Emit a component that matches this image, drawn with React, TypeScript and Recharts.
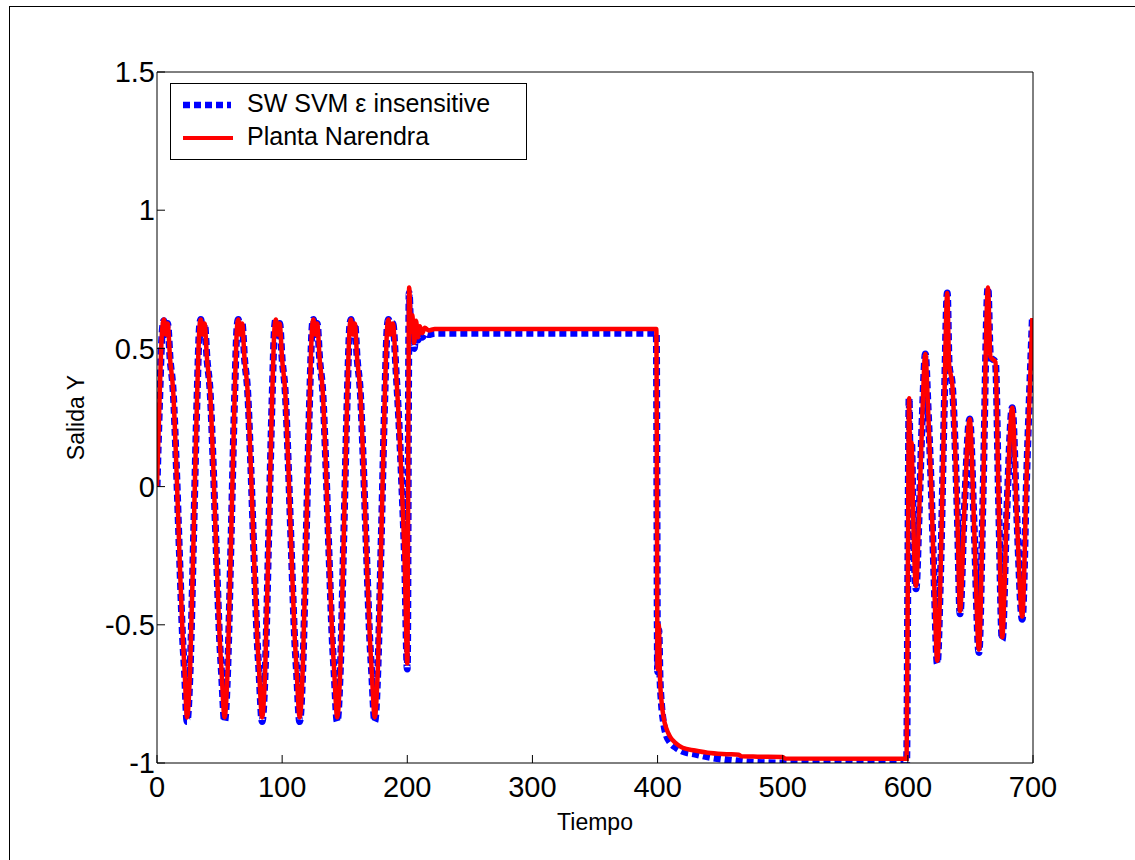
import React from 'react';
import { LineChart, Line, XAxis, YAxis, Legend, Label } from 'recharts';

// sample times (shared by both series)
const tiempo = [
  0, 2, 4, 5.5, 7, 8.5, 10.5, 13, 15.5, 18, 20.5, 22, 24, 26.5, 29.3, 32, 34,
  35, 36.5, 38, 40, 42.5, 45, 47.5, 50, 51.5, 54, 56.5, 59.3, 62, 64,
  65, 66.5, 68, 70, 72.5, 75, 77.5, 80, 81.5, 84, 86.5, 89.3, 92, 94,
  95, 96.5, 98, 100, 102.5, 105, 107.5, 110, 111.5, 114, 116.5, 119.3, 122, 124,
  125, 126.5, 128, 130, 132.5, 135, 137.5, 140, 141.5, 144, 146.5, 149.3, 152, 154,
  155, 156.5, 158, 160, 162.5, 165, 167.5, 170, 171.5, 174, 176.5, 179.3, 182, 184,
  185, 186.5, 188.5, 191, 195, 198, 200, 201.5, 203, 204, 205.5, 207, 208.5, 210, 212, 214, 217, 222,
  399, 400, 401, 402, 403, 405, 407, 410, 415, 420, 430, 440, 455, 465, 467, 480, 500, 502, 599,
  600, 601, 602, 603, 604, 606.5, 609, 611.5, 614, 616, 618.5, 621, 623.5, 626, 629, 631.5, 633, 635.5,
  639.5, 641.7, 645, 649.4, 653, 656.8, 660, 664, 666, 670, 672.5, 675.4, 679, 683.4, 687, 691.4, 695, 699.5,
];

// SW SVM epsilon insensitive (blue dotted)
const svmEpsilon = [
  0, 0.3, 0.55, 0.6, 0.55, 0.59, 0.46, 0.34, 0.07, -0.25, -0.55, -0.67, -0.85, -0.66, -0.17, 0.32, 0.58,
  0.605, 0.55, 0.59, 0.46, 0.34, 0.07, -0.25, -0.55, -0.67, -0.85, -0.66, -0.17, 0.32, 0.58,
  0.605, 0.55, 0.59, 0.46, 0.34, 0.07, -0.25, -0.55, -0.67, -0.85, -0.66, -0.17, 0.32, 0.58,
  0.605, 0.55, 0.59, 0.46, 0.34, 0.07, -0.25, -0.55, -0.67, -0.85, -0.66, -0.17, 0.32, 0.58,
  0.605, 0.55, 0.59, 0.46, 0.34, 0.07, -0.25, -0.55, -0.67, -0.85, -0.66, -0.17, 0.32, 0.58,
  0.605, 0.55, 0.59, 0.46, 0.34, 0.07, -0.25, -0.55, -0.67, -0.85, -0.66, -0.17, 0.32, 0.58,
  0.605, 0.55, 0.59, 0.42, 0.07, -0.29, -0.66, 0.7, 0.55, 0.58, 0.5, 0.56, 0.53, 0.55, 0.54, 0.553, 0.55, 0.555,
  0.555, -0.67, -0.52, -0.7, -0.78, -0.86, -0.9, -0.925, -0.945, -0.958, -0.968, -0.978, -0.988, -0.993, -0.994, -0.998, -1.0, -1.0, -1.0,
  -0.3, 0.32, 0.02, 0.16, -0.06, -0.37, -0.1, 0.25, 0.48, 0.3, 0.02, -0.34, -0.64, -0.34, 0.27, 0.7, 0.44, 0.37,
  -0.1, -0.46, -0.1, 0.245, -0.15, -0.6, -0.05, 0.72, 0.47, 0.45, -0.05, -0.555, -0.1, 0.285, -0.1, -0.48, 0.05, 0.61,
];

// Planta Narendra (red solid)
const plantaNarendra = [
  0, 0.31, 0.56, 0.605, 0.55, 0.59, 0.46, 0.34, 0.07, -0.25, -0.54, -0.66, -0.835, -0.655, -0.17, 0.32, 0.58,
  0.605, 0.55, 0.59, 0.46, 0.34, 0.07, -0.25, -0.54, -0.66, -0.835, -0.655, -0.17, 0.32, 0.58,
  0.605, 0.55, 0.59, 0.46, 0.34, 0.07, -0.25, -0.54, -0.66, -0.835, -0.655, -0.17, 0.32, 0.58,
  0.605, 0.55, 0.59, 0.46, 0.34, 0.07, -0.25, -0.54, -0.66, -0.835, -0.655, -0.17, 0.32, 0.58,
  0.605, 0.55, 0.59, 0.46, 0.34, 0.07, -0.25, -0.54, -0.66, -0.835, -0.655, -0.17, 0.32, 0.58,
  0.605, 0.55, 0.59, 0.46, 0.34, 0.07, -0.25, -0.54, -0.66, -0.835, -0.655, -0.17, 0.32, 0.58,
  0.605, 0.55, 0.59, 0.42, 0.07, -0.29, -0.64, 0.72, 0.56, 0.62, 0.52, 0.6, 0.54, 0.58, 0.555, 0.575, 0.565, 0.57,
  0.57, -0.66, -0.5, -0.7, -0.77, -0.84, -0.875, -0.905, -0.93, -0.945, -0.955, -0.963, -0.968, -0.97, -0.976, -0.977, -0.978, -0.984, -0.985,
  -0.3, 0.32, 0.02, 0.16, -0.06, -0.36, -0.1, 0.25, 0.48, 0.3, 0.02, -0.34, -0.63, -0.34, 0.27, 0.7, 0.44, 0.37,
  -0.1, -0.45, -0.1, 0.245, -0.15, -0.59, -0.05, 0.72, 0.47, 0.45, -0.05, -0.545, -0.1, 0.285, -0.1, -0.47, 0.05, 0.61,
];

const ticksX = [0, 100, 200, 300, 400, 500, 600, 700];
const ticksY = [-1, -0.5, 0, 0.5, 1, 1.5];

const data = tiempo.map((t, i) => ({ t, svm: svmEpsilon[i], planta: plantaNarendra[i] }));

const FONT = '"Liberation Sans", Arial, Helvetica, sans-serif';
const tickStyle = { fill: '#000', fontSize: 29, fontFamily: FONT };

const LegendBox = () => (
  <div style={{ position: 'relative', width: 357, height: 77, boxSizing: 'border-box', border: '1.5px solid #000', background: '#fff', fontFamily: FONT, fontSize: 25, color: '#000' }}>
    <svg width={52} height={10} style={{ position: 'absolute', left: 12, top: 16 }}>
      <line x1={0} y1={5} x2={48} y2={5} stroke="#0000ff" strokeWidth={6.5} strokeDasharray="7 4" />
    </svg>
    <span style={{ position: 'absolute', left: 76, top: 5, whiteSpace: 'nowrap' }}>SW SVM ε insensitive</span>
    <svg width={52} height={10} style={{ position: 'absolute', left: 12, top: 49 }}>
      <line x1={0} y1={5} x2={50} y2={5} stroke="#ff0000" strokeWidth={4} />
    </svg>
    <span style={{ position: 'absolute', left: 76, top: 38, whiteSpace: 'nowrap' }}>Planta Narendra</span>
  </div>
);

export default function App() {
  return (
    <div style={{ position: 'absolute', left: 0, top: 0, width: 1135, height: 860, overflow: 'hidden', background: '#fff' }}>
      <div style={{ position: 'absolute', left: 9, top: 6, width: 1300, height: 1000, border: '1px solid #000' }} />
      <div style={{ position: 'absolute', left: 0, top: 0 }}>
        <LineChart width={1135} height={860} data={data} margin={{ top: 0, right: 0, bottom: 0, left: 0 }}>
          <XAxis dataKey="t" type="number" domain={[0, 700]} ticks={ticksX} allowDataOverflow height={97}
            tick={tickStyle} tickSize={-8} tickMargin={21} axisLine={{ stroke: '#000' }} tickLine={{ stroke: '#000' }}>
            <Label value="Tiempo" position="insideBottom" offset={30} style={{ fill: '#000', fontSize: 23, fontFamily: FONT }} />
          </XAxis>
          <XAxis xAxisId="top" orientation="top" dataKey="t" type="number" domain={[0, 700]} ticks={ticksX} allowDataOverflow height={72}
            tick={false} tickSize={-8} axisLine={{ stroke: '#000' }} tickLine={{ stroke: '#000' }} />
          <YAxis type="number" domain={[-1, 1.5]} ticks={ticksY} allowDataOverflow width={157}
            tick={tickStyle} tickSize={-8} tickMargin={10} axisLine={{ stroke: '#000' }} tickLine={{ stroke: '#000' }}>
            <Label value="Salida Y" angle={-90} position="center" dx={-3} style={{ fill: '#000', fontSize: 23, fontFamily: FONT, textAnchor: 'middle' }} />
          </YAxis>
          <YAxis yAxisId="right" orientation="right" type="number" domain={[-1, 1.5]} ticks={ticksY} allowDataOverflow width={102}
            tick={false} tickSize={-8} axisLine={{ stroke: '#000' }} tickLine={{ stroke: '#000' }} />
          <Legend layout="horizontal" align="center" verticalAlign="middle" content={() => <LegendBox />}
            wrapperStyle={{ position: 'absolute', left: 170, top: 83, width: 357, height: 77 }} />
          <Line dataKey="svm" name="SW SVM ε insensitive" type="monotone" stroke="#0000ff" strokeWidth={7}
            strokeDasharray="7 4" dot={false} isAnimationActive={false} />
          <Line dataKey="planta" name="Planta Narendra" type="monotone" stroke="#ff0000" strokeWidth={4.5}
            dot={false} isAnimationActive={false} />
        </LineChart>
      </div>
    </div>
  );
}
